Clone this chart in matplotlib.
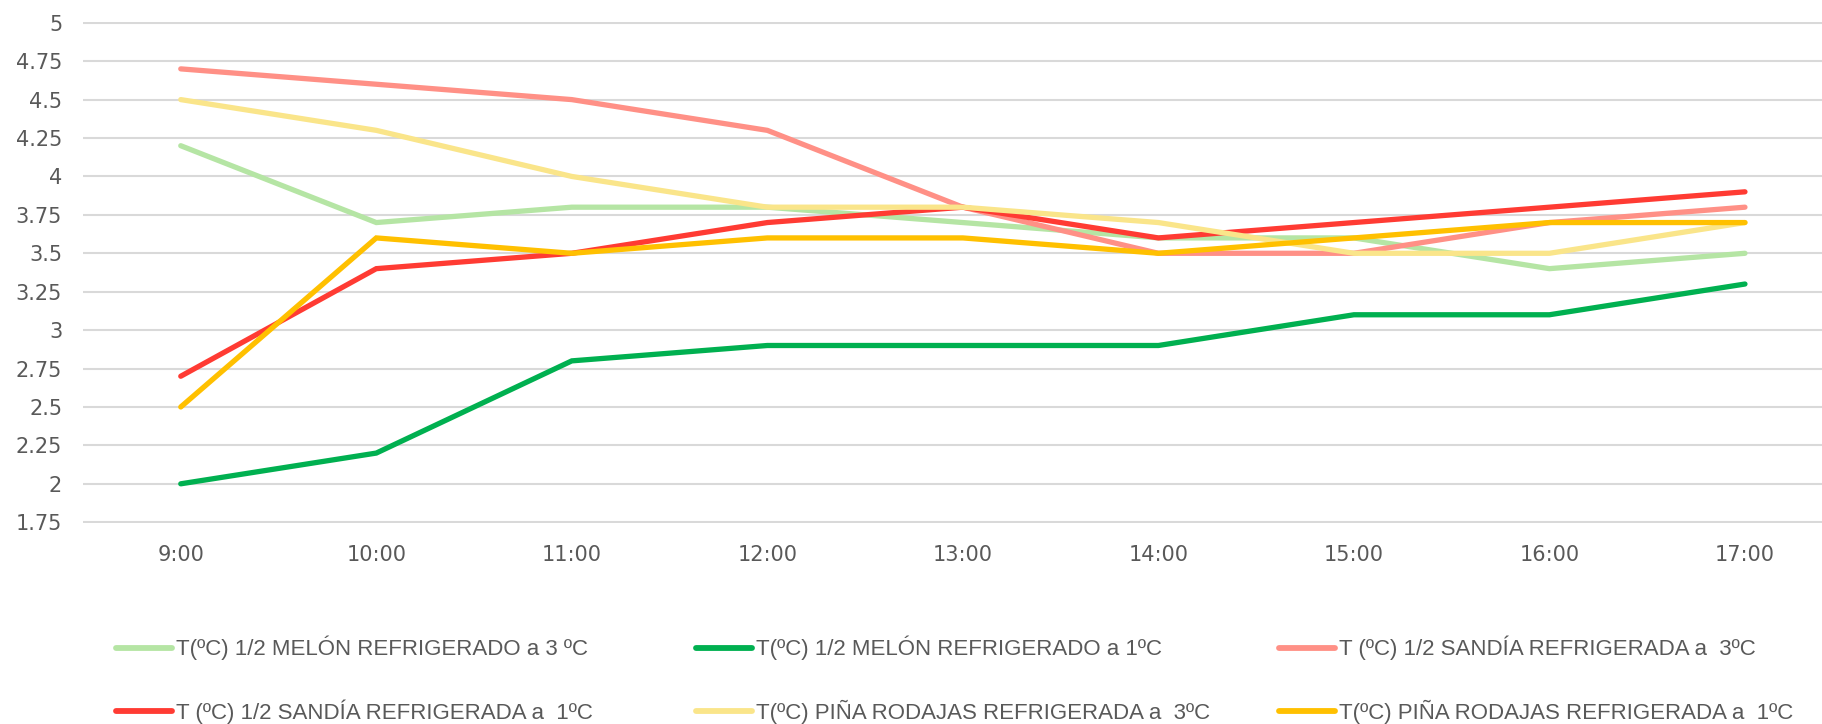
import matplotlib
matplotlib.use("Agg")
import matplotlib.pyplot as plt

hours = ["9:00", "10:00", "11:00", "12:00", "13:00", "14:00", "15:00", "16:00", "17:00"]

melon_3 = [4.2, 3.7, 3.8, 3.8, 3.7, 3.6, 3.6, 3.4, 3.5]
melon_1 = [2.0, 2.2, 2.8, 2.9, 2.9, 2.9, 3.1, 3.1, 3.3]
sandia_3 = [4.7, 4.6, 4.5, 4.3, 3.8, 3.5, 3.5, 3.7, 3.8]
sandia_1 = [2.7, 3.4, 3.5, 3.7, 3.8, 3.6, 3.7, 3.8, 3.9]
pina_3 = [4.5, 4.3, 4.0, 3.8, 3.8, 3.7, 3.5, 3.5, 3.7]
pina_1 = [2.5, 3.6, 3.5, 3.6, 3.6, 3.5, 3.6, 3.7, 3.7]

labels = [
    "T(ºC) 1/2 MELÓN REFRIGERADO a 3 ºC",
    "T(ºC) 1/2 MELÓN REFRIGERADO a 1ºC",
    "T (ºC) 1/2 SANDÍA REFRIGERADA a  3ºC",
    "T (ºC) 1/2 SANDÍA REFRIGERADA a  1ºC",
    "T(ºC) PIÑA RODAJAS REFRIGERADA a  3ºC",
    "T(ºC) PIÑA RODAJAS REFRIGERADA a  1ºC",
]
series = [melon_3, melon_1, sandia_3, sandia_1, pina_3, pina_1]
colors = ["#B5E5A4", "#00B050", "#FF9086", "#FF3B33", "#FAE58A", "#FFC000"]
yticks = [1.75, 2, 2.25, 2.5, 2.75, 3, 3.25, 3.5, 3.75, 4, 4.25, 4.5, 4.75, 5]

text_color = "#595959"

fig = plt.figure(figsize=(18.22, 7.24), dpi=100)
ax = fig.add_axes([83 / 1822, 201 / 724, (1822 - 83) / 1822, 501 / 724])

x = list(range(len(hours)))
handles = []
for vals, col, lab in zip(series, colors, labels):
    (h,) = ax.plot(x, vals, color=col, lw=3.8, label=lab,
                   solid_capstyle="round", solid_joinstyle="miter")
    handles.append(h)

ax.set_xlim(-0.5, 8.394)
ax.set_ylim(1.745, 5.005)
ax.set_yticks(yticks)
ax.set_yticklabels([f"{v:g}" for v in yticks])
ax.set_xticks(x)
ax.set_xticklabels(hours)
ax.grid(axis="y", color="#D9D9D9", lw=1.5)
ax.set_axisbelow(True)
for s in ax.spines.values():
    s.set_visible(False)
ax.tick_params(axis="both", length=0, labelsize=15, colors=text_color)
ax.tick_params(axis="y", pad=15)
ax.tick_params(axis="x", pad=16)

# legend: three equal-width columns, entries read row by row
col_x = [116, 696, 1279]
for c, x0 in enumerate(col_x):
    idx = [c, c + 3]
    leg = fig.legend(
        [handles[i] for i in idx],
        [labels[i] for i in idx],
        ncol=1,
        loc="upper left",
        bbox_to_anchor=(x0 / 1822, 1 - 636 / 724),
        frameon=False,
        prop={"family": "Liberation Sans", "size": 16},
        handlelength=2.5,
        handletextpad=0.2,
        labelspacing=1.75,
        borderaxespad=0,
        borderpad=0,
    )
    for t in leg.get_texts():
        t.set_color(text_color)
    for lh in leg.get_lines():
        lh.set_linewidth(4.2)
        lh.set_solid_capstyle("round")

fig.savefig("out.png", dpi=100)
